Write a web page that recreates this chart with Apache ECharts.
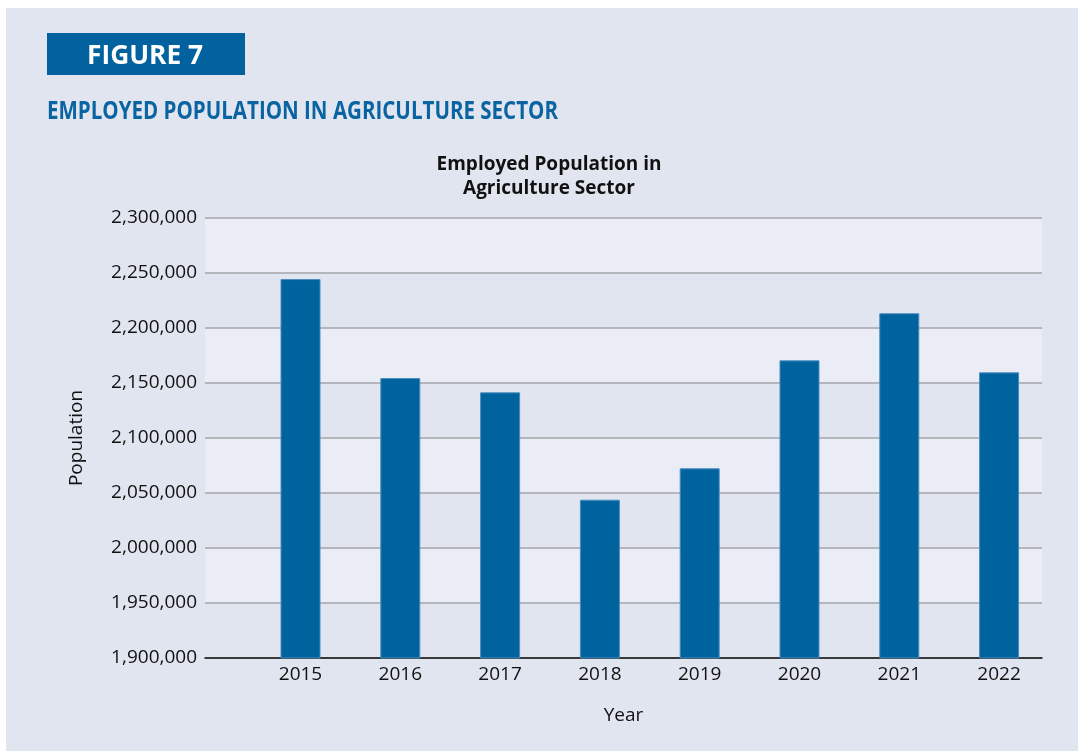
<!DOCTYPE html>
<html>
<head>
<meta charset="utf-8">
<title>Employed Population in Agriculture Sector</title>
<script src="https://cdn.jsdelivr.net/npm/echarts@6/dist/echarts.min.js"></script>
<style>
  html, body { margin: 0; padding: 0; background: #ffffff; }
  #chart { width: 1078px; height: 751px; }
</style>
</head>
<body>
<div id="chart"></div>
<script>
// Employed population in the agriculture sector, by year
const years = [2015, 2016, 2017, 2018, 2019, 2020, 2021, 2022];
const employed = [2244500, 2154500, 2141500, 2043900, 2072450, 2170600, 2213400, 2159700];
const yTicks = { min: 1900000, max: 2300000, step: 50000 };

const figureLabel = 'FIGURE 7';
const headline = 'EMPLOYED POPULATION IN AGRICULTURE SECTOR';
const chartTitle = 'Employed Population in\nAgriculture Sector';

const BLUE = '#02629f';
const PANEL = '#e1e5f0';
const BAND = '#eaedf6';

// squeeze a bold face into a condensed headline look
function condensed(text, font, targetWidth) {
  const ctx = document.createElement('canvas').getContext('2d');
  ctx.font = font;
  return targetWidth / ctx.measureText(text).width;
}
const headFont = 'bold 26px "Open Sans"';
const titleFont = 'bold 25px "Open Sans"';

const chart = echarts.init(document.getElementById('chart'), null, { renderer: 'canvas' });

const option = {
  backgroundColor: '#ffffff',
  animation: false,
  graphic: [
    { type: 'rect', z: -10, shape: { x: 6, y: 8, width: 1072, height: 743 }, style: { fill: PANEL } },
    { type: 'rect', shape: { x: 47, y: 33, width: 198, height: 42 }, style: { fill: BLUE } },
    {
      type: 'text', x: 87, y: 57,
      scaleX: condensed(figureLabel, headFont, 116),
      style: { text: figureLabel, font: headFont, fill: '#ffffff', verticalAlign: 'middle' }
    },
    {
      type: 'text', x: 47, y: 112,
      scaleX: condensed(headline, titleFont, 511),
      style: { text: headline, font: titleFont, fill: '#0a64a1', verticalAlign: 'middle' }
    }
  ],
  title: {
    text: chartTitle,
    left: 544,
    top: 148,
    textAlign: 'center',
    textStyle: {
      fontFamily: 'Open Sans',
      fontWeight: 'bold',
      fontSize: 19,
      lineHeight: 24,
      color: '#111111'
    }
  },
  grid: { left: 205, right: 36, top: 218, bottom: 93, containLabel: false },
  xAxis: {
    type: 'value',
    min: 2014.043,
    max: 2022.43,
    name: 'Year',
    nameLocation: 'middle',
    nameGap: 48,
    nameTextStyle: { fontFamily: 'Open Sans', fontSize: 19, color: '#111111' },
    axisLine: { show: true, onZero: false, lineStyle: { color: '#111111', width: 1.5 } },
    axisTick: { show: false },
    splitLine: { show: false },
    axisLabel: {
      customValues: years,
      margin: 7,
      fontFamily: 'Open Sans',
      fontSize: 19,
      color: '#111111',
      formatter: v => String(v)
    }
  },
  yAxis: {
    type: 'value',
    min: yTicks.min,
    max: yTicks.max,
    interval: yTicks.step,
    name: 'Population',
    nameLocation: 'middle',
    nameRotate: 90,
    nameGap: 119,
    nameTextStyle: { fontFamily: 'Open Sans', fontSize: 19, color: '#111111' },
    axisLine: { show: false },
    axisTick: { show: false },
    axisLabel: {
      margin: 8,
      fontFamily: 'Open Sans',
      fontSize: 19,
      color: '#111111',
      formatter: v => v.toLocaleString('en-US')
    },
    splitLine: { show: true, lineStyle: { color: '#b4b6bb', width: 2 } },
    splitArea: { show: true, areaStyle: { color: ['rgba(0,0,0,0)', BAND] } }
  },
  series: [{
    type: 'bar',
    barWidth: 40,
    data: years.map((y, i) => [y, employed[i]]),
    itemStyle: { color: '#00639e', borderColor: '#4a8cc0', borderWidth: 1 }
  }]
};

chart.setOption(option);
</script>
</body>
</html>
